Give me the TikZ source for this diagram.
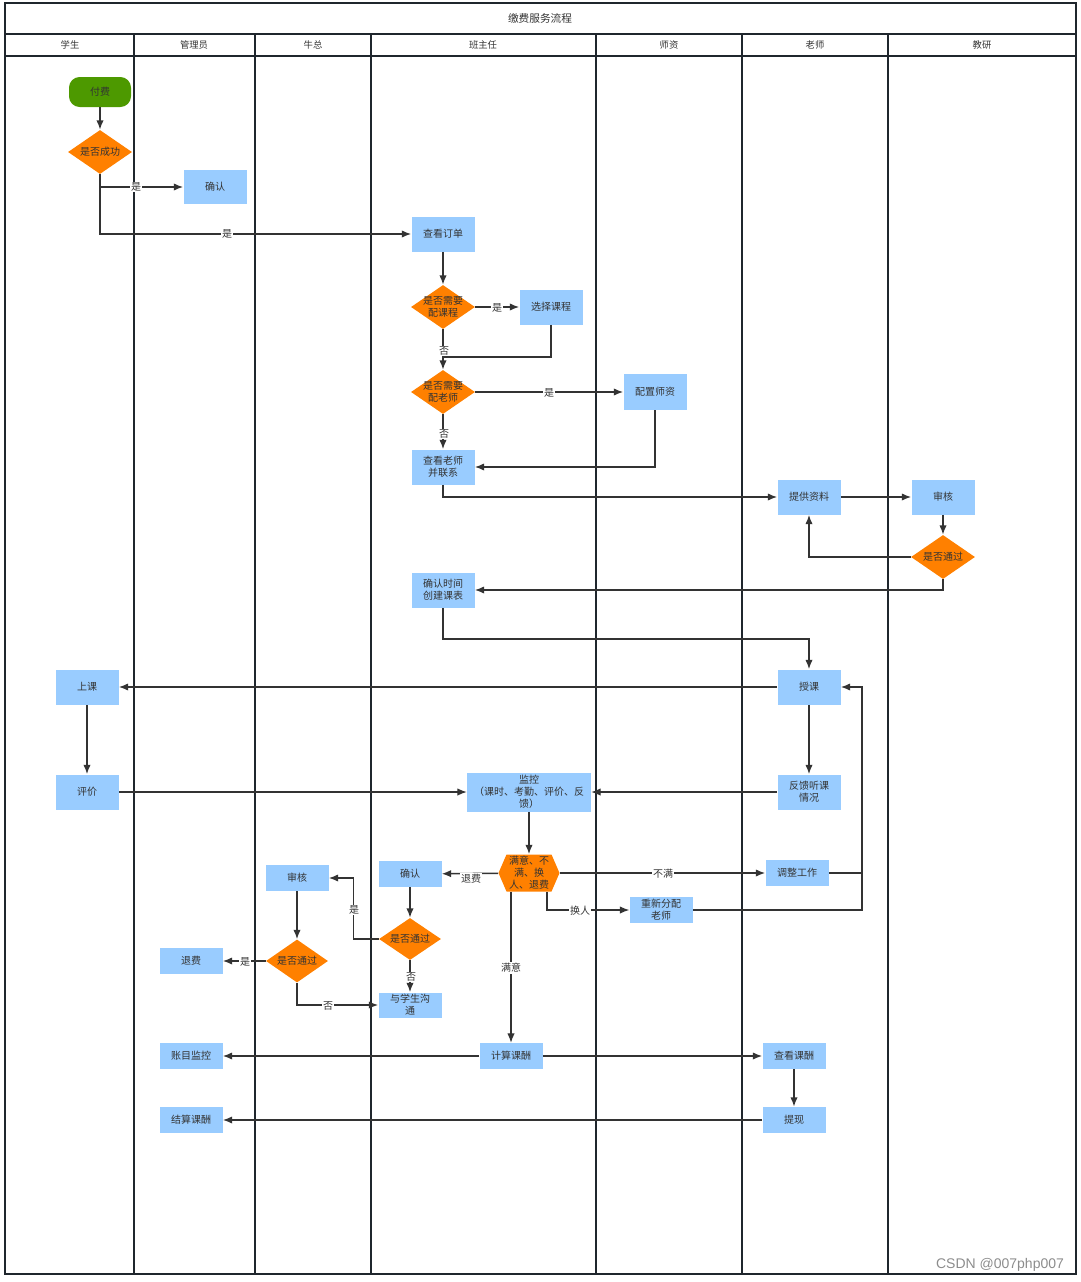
\documentclass[tikz,border=0pt]{standalone}
\usepackage{fontspec}
\setmainfont{Noto Sans CJK SC}
\newfontfamily\wmfont{Liberation Sans}
\usetikzlibrary{arrows.meta,shapes.geometric}
\definecolor{boxblue}{HTML}{99CCFF}
\definecolor{dorange}{HTML}{FF8000}
\definecolor{dgreen}{HTML}{4D9900}
\definecolor{ink}{HTML}{333333}
\definecolor{lane}{HTML}{1F262D}
\begin{document}
\begin{tikzpicture}[x=0.75pt,y=-0.75pt,
  font=\fontsize{7.5}{9}\selectfont, text=ink,
  box/.style={fill=boxblue, minimum width=47.25pt, minimum height=26.25pt, inner sep=1pt, align=center},
  sbox/.style={box, minimum height=19.5pt},
  startbox/.style={fill=dgreen, rounded corners=8pt, minimum width=46.5pt, minimum height=22.5pt, inner sep=1pt},
  dia/.style={diamond, fill=dorange, minimum width=48pt, minimum height=33pt, inner sep=0pt},
  conn/.style={draw=ink, line width=1.1pt, -{Latex[length=7pt,width=5.5pt]}},
  thinconn/.style={conn, line width=0.8pt},
  plain/.style={draw=ink, line width=1.1pt},
  lbl/.style={fill=white, inner sep=0.8pt},
  hdr/.style={font=\fontsize{7}{8}\selectfont},
  thicklane/.style={draw=lane, line width=1.5pt},
  thinlane/.style={draw=lane, line width=0.9pt}]
\useasboundingbox (0,0) rectangle (1081,1282);
% frame and lanes
\draw[draw=lane, line width=0.9pt] (5,3) rectangle (1076,1274);
\draw[draw=lane, line width=0.8pt] (5,34) -- (1076,34);
\draw[draw=lane, line width=1.6pt] (5,56) -- (1076,56);
\foreach \x in {134,255,371} \draw[thicklane] (\x,34) -- (\x,1274);
\foreach \x in {596,742,888} \draw[thinlane] (\x,34) -- (\x,1274);
\node[font=\fontsize{8}{9}\selectfont] (title) at (540,18) {缴费服务流程};
\node[hdr] (h1) at (70,45) {学生};
\node[hdr] (h2) at (194,45) {管理员};
\node[hdr] (h3) at (313,45) {牛总};
\node[hdr] (h4) at (483,45) {班主任};
\node[hdr] (h5) at (669,45) {师资};
\node[hdr] (h6) at (815,45) {老师};
\node[hdr] (h7) at (982,45) {教研};
% nodes
\node[startbox] (pay) at (100,92) {付费};
\node[dia, label={center:是否成功}] (dsucc) at (100,152) {};
\node[box, minimum height=25.5pt] (adm) at (215,187) {确认};
\node[box] (order) at (443,234) {查看订单};
\node[dia, label={[align=center]center:是否需要\\配课程}] (dcourse) at (443,307) {};
\node[box] (selc) at (551,307) {选择课程};
\node[dia, label={[align=center]center:是否需要\\配老师}] (dteach) at (443,392) {};
\node[box, minimum height=27pt] (cfgt) at (655,392) {配置师资};
\node[box] (contact) at (443,467) {查看老师\\并联系};
\node[box] (prov) at (809,497) {提供资料};
\node[box] (rev1) at (943,497) {审核};
\node[dia, label={center:是否通过}] (dpass1) at (943,557) {};
\node[box] (sched) at (443,590) {确认时间\\创建课表};
\node[box] (teach) at (809,687) {授课};
\node[box] (attend) at (87,687) {上课};
\node[box] (eval) at (87,792) {评价};
\node[box] (fb) at (809,792) {反馈听课\\情况};
\node[box, minimum width=93pt, minimum height=29.25pt, inner sep=0pt] (mon) at (529,792) {监控\\（课时、考勤、评价、反\\馈）};
\node[fill=white, minimum width=45.75pt, minimum height=27.75pt, inner sep=0pt, align=center,
  path picture={\fill[dorange] (path picture bounding box.west) -- ([xshift=6pt]path picture bounding box.north west) -- ([xshift=-6pt]path picture bounding box.north east) -- (path picture bounding box.east) -- ([xshift=-6pt]path picture bounding box.south east) -- ([xshift=6pt]path picture bounding box.south west) -- cycle;}]
  (hex) at (529,873) {满意、不\\满、换\\人、退费};
\node[sbox] (adj) at (797,873) {调整工作};
\node[sbox] (reas) at (661,910) {重新分配\\老师};
\node[sbox] (conf2) at (410,874) {确认};
\node[sbox] (rev2) at (297,878) {审核};
\node[dia, minimum width=46.5pt, minimum height=31.5pt, label={center:是否通过}] (dpass2) at (410,939) {};
\node[dia, minimum width=46.5pt, minimum height=32.25pt, label={center:是否通过}] (dpass3) at (297,961) {};
\node[sbox] (refund) at (191,961) {退费};
\node[sbox, minimum height=18.75pt] (talk) at (410,1005) {与学生沟\\通};
\node[sbox] (calc) at (511,1056) {计算课酬};
\node[sbox] (acct) at (191,1056) {账目监控};
\node[sbox] (view) at (794,1056) {查看课酬};
\node[sbox] (wd) at (794,1120) {提现};
\node[sbox] (settle) at (191,1120) {结算课酬};
% helper coordinates
\coordinate (j1) at (443,357);
\coordinate (jr) at (862,873);
% connectors
\draw[conn] (pay) -- (dsucc);
\draw[conn] (dsucc.south) |- (adm.west);
\draw[conn] (dsucc.south) |- (order.west);
\draw[conn] (order) -- (dcourse);
\draw[conn] (dcourse) -- (selc);
\draw[conn] (dcourse) -- (dteach);
\draw[plain] (selc.south) |- (j1);
\draw[conn] (dteach) -- (cfgt);
\draw[conn] (dteach) -- (contact);
\draw[conn] (cfgt.south) |- (contact.east);
\draw[conn] (contact.south) |- (prov.west);
\draw[conn] (prov) -- (rev1);
\draw[conn] (rev1) -- (dpass1);
\draw[conn] (dpass1.west) -| (prov.south);
\draw[conn] (dpass1.south) |- (sched.east);
\draw[conn] (sched.south) -- ++(0,31) -| (teach.north);
\draw[conn] (teach) -- (attend);
\draw[conn] (attend) -- (eval);
\draw[conn] (teach) -- (fb);
\draw[thinconn] (eval) -- (mon);
\draw[thinconn] (fb) -- (mon);
\draw[conn] (mon) -- (hex);
\draw[conn] (hex) -- (adj);
\draw[thinconn] ([xshift=13.5pt]hex.south) |- (reas.west);
\draw[conn] (hex) -- (conf2);
\draw[thinconn] ([xshift=-13.5pt]hex.south) -- (calc.north);
\draw[conn] (adj.east) -- ++(33,0) |- (teach.east);
\draw[draw=ink, line width=0.8pt] (reas.east) -| (jr);
\draw[conn] (conf2) -- (dpass2);
\draw[conn] (dpass2.west) -- ++(-25,0) |- (rev2.east);
\draw[conn] (dpass2) -- (talk);
\draw[conn] (rev2) -- (dpass3);
\draw[conn] (dpass3) -- (refund);
\draw[conn] (dpass3.south) |- (talk.west);
\draw[conn] (calc) -- (acct);
\draw[conn] (calc) -- (view);
\draw[conn] (view) -- (wd);
\draw[conn] (wd) -- (settle);
% labels
\node[lbl] (l1) at (136,187) {是};
\node[lbl] (l2) at (227,234) {是};
\node[lbl] (l3) at (497,308) {是};
\node[lbl] (l4) at (444,351) {否};
\node[lbl] (l5) at (549,393) {是};
\node[lbl] (l6) at (444,434) {否};
\node[lbl] (l7) at (663,874) {不满};
\node[lbl] (l8) at (580,911) {换人};
\node[lbl] (l9) at (471,879) {退费};
\node[lbl] (l10) at (511,968) {满意};
\node[lbl] (l11) at (354,910) {是};
\node[lbl] (l12) at (411,977) {否};
\node[lbl] (l13) at (245,962) {是};
\node[lbl] (l14) at (328,1006) {否};
\node[font=\wmfont\fontsize{10.5}{12}\selectfont, text=black!45] (wm) at (1000,1265) {CSDN @007php007};
\end{tikzpicture}
\end{document}
